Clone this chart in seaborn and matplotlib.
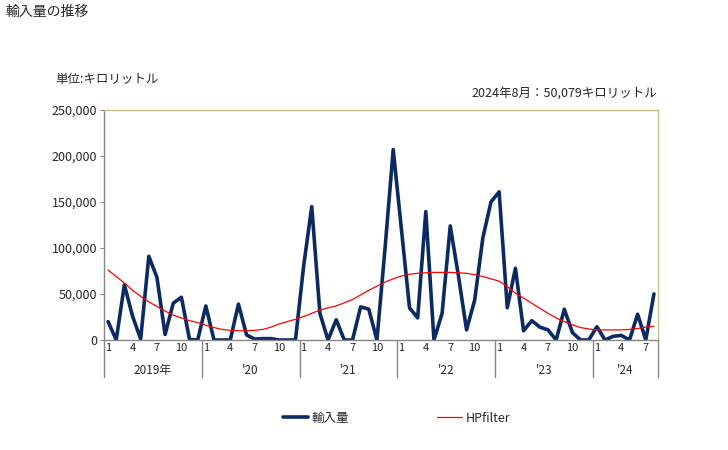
import numpy as np
import pandas as pd
import matplotlib
matplotlib.use("Agg")
import matplotlib.pyplot as plt
import matplotlib.transforms as mtransforms
import seaborn as sns

years = [2019, 2020, 2021, 2022, 2023, 2024]
year_labels = ["2019年", "'20", "'21", "'22", "'23", "'24"]
month_ticks = [1, 4, 7, 10]

imports = [
    20000, 0, 60000, 26000, 1000, 91000, 68000, 6000, 40000, 46500, 500, 0,
    37000, 0, 0, 0, 39000, 5500, 1000, 1500, 1500, 0, 0, 0,
    80000, 145000, 29000, 0, 22000, 0, 0, 36000, 33500, 0, 100000, 207000,
    121000, 35000, 24000, 139500, 0, 29000, 124000, 70000, 11000, 43500, 111000, 150000,
    161000, 35000, 78000, 10000, 21000, 14000, 11000, 0, 33500, 8000, 0, 0,
    14500, 0, 4000, 5000, 0, 28000, 0, 50079,
]
hp_filter = [
    76000, 69000, 62000, 54000, 47500, 41500, 36500, 31500, 27000, 24000, 21000, 19000,
    16000, 13500, 11500, 10500, 10000, 10000, 10500, 11500, 14000, 17500, 20000, 22500,
    25500, 29000, 32500, 35000, 37000, 40500, 44000, 49000, 54000, 58500, 63000, 66500,
    69500, 71500, 72500, 73000, 73500, 73500, 73500, 73000, 72500, 71000, 69000, 66500,
    64000, 58000, 51000, 45500, 40000, 34500, 29000, 24000, 20000, 16500, 13500, 12000,
    11000, 11000, 11000, 11000, 11500, 12500, 14000, 15000,
]

n = len(imports)
months = [(i % 12) + 1 for i in range(n)]
df = pd.DataFrame({"idx": np.arange(n), "輸入量": imports, "HPfilter": hp_filter, "month": months})

sns.set_theme(style="white")
plt.rcParams["font.family"] = ["Noto Sans CJK JP", "DejaVu Sans"]

fig = plt.figure(figsize=(7.28, 4.5), dpi=100)
ax = fig.add_axes([104 / 728, 1 - 340 / 450, (658 - 104) / 728, 230 / 450])

navy = "#0c2a62"
sns.lineplot(data=df, x="idx", y="輸入量", ax=ax, color=navy, linewidth=2.6, label="輸入量", legend=False)
sns.lineplot(data=df, x="idx", y="HPfilter", ax=ax, color="#ff0000", linewidth=0.9, label="HPfilter", legend=False)

ax.set_xlim(-0.5, n - 0.5)
ax.set_ylim(0, 250000)
ax.set_yticks(range(0, 250001, 50000))
ax.set_yticklabels([f"{v:,}" for v in range(0, 250001, 50000)], fontsize=9)
ax.tick_params(axis="y", length=3, width=0.8, color="#888888", pad=2, left=True)
ax.set_xticks([])
ax.set_xlabel("")
ax.set_ylabel("")

for s in ["left", "bottom"]:
    ax.spines[s].set_color("#888888")
    ax.spines[s].set_linewidth(1.0)
for s in ["top", "right"]:
    ax.spines[s].set_color("#c8bc8c")
    ax.spines[s].set_linewidth(1.0)

trans = mtransforms.blended_transform_factory(ax.transData, ax.transAxes)
for i, m in enumerate(months):
    if m in month_ticks:
        ax.text(i, -0.015, str(m), transform=trans, ha="center", va="top", fontsize=8)
for k, yl in enumerate(year_labels):
    start = k * 12 - 0.5
    end = min(start + 12, n - 0.5)
    ax.plot([start, start], [0, -0.16], transform=trans, color="#888888", lw=1.0, clip_on=False)
    ax.text((start + end) / 2, -0.105, yl, transform=trans, ha="center", va="top", fontsize=8.5)
ax.plot([n - 0.5, n - 0.5], [0, -0.16], transform=trans, color="#888888", lw=1.0, clip_on=False)

fig.text(5 / 728, 1 - 12 / 450, "輸入量の推移", fontsize=10, ha="left", va="center")
fig.text(55 / 728, 1 - 80 / 450, "単位:キロリットル", fontsize=9, ha="left", va="center")
fig.text(657 / 728, 1 - 93 / 450, "2024年8月：50,079キロリットル", fontsize=9, ha="right", va="center")

handles, labels = ax.get_legend_handles_labels()
fig.legend(handles, labels, loc="center", bbox_to_anchor=(0.545, 1 - 418 / 450), ncol=2,
           frameon=False, fontsize=9, handlelength=2.0, columnspacing=7, handletextpad=0.3)

fig.savefig("out.png", dpi=100)
